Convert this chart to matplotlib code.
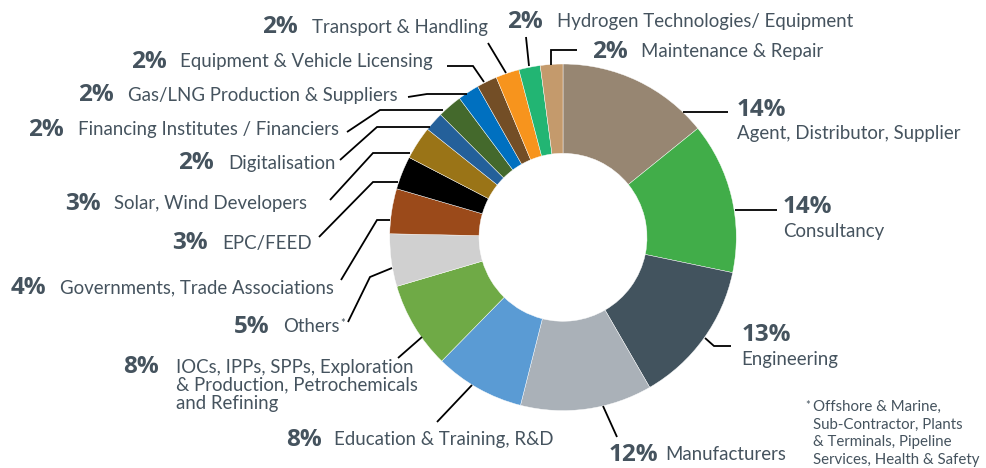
import matplotlib
matplotlib.use("Agg")
import matplotlib.pyplot as plt

W, H = 986, 468

categories = ["Agent, Distributor, Supplier", "Consultancy", "Engineering", "Manufacturers",
              "Education & Training, R&D",
              "IOCs, IPPs, SPPs, Exploration\n& Production, Petrochemicals\nand Refining",
              "Others", "Governments, Trade Associations", "EPC/FEED", "Solar, Wind Developers",
              "Digitalisation", "Financing Institutes / Financiers", "Gas/LNG Production & Suppliers",
              "Equipment & Vehicle Licensing", "Transport & Handling",
              "Hydrogen Technologies/ Equipment", "Maintenance & Repair"]
values = [14.2, 14.1, 13.4, 12.3, 8.4, 8.1, 4.9, 4.2, 3.1, 3.1, 1.8, 2.3, 2.0, 1.9, 2.2, 2.0, 2.1]
pct_labels = ["14%", "14%", "13%", "12%", "8%", "8%", "5%", "4%", "3%", "3%",
              "2%", "2%", "2%", "2%", "2%", "2%", "2%"]
colors = ["#978672", "#41AD49", "#42535E", "#AAB1B8", "#5A9BD4", "#6FAA46", "#D0D0D0",
          "#9B4A1A", "#000000", "#9A7417", "#24609A", "#44692C", "#0070C0", "#734E26",
          "#F7941D", "#22B573", "#C49A6C"]
footnote = "Offshore & Marine,\nSub-Contractor, Plants\n& Terminals, Pipeline\nServices, Health & Safety"

TXT = "#45535E"
FONT = "Lato"
PFONT = "Open Sans"

fig = plt.figure(figsize=(W / 100, H / 100), dpi=100)
ax = fig.add_axes([0, 0, 1, 1])

cx, cy, R, r_in = 563, 237.3, 173.3, 84
ax.pie(values, colors=colors, startangle=90, counterclock=False,
       center=(cx, H - cy), radius=R,
       wedgeprops=dict(width=R - r_in, edgecolor="white", linewidth=0.3))
ax.set_xlim(0, W)
ax.set_ylim(0, H)
ax.set_aspect("equal")
ax.axis("off")

def Y(y):
    return H - y

# label layout: (pct x, pct y, label x, label y, label mode)
layout = [
    (737, 110, 737, 133, "below"),
    (783, 207, 783, 232, "below"),
    (742, 335, 741, 359, "below"),
    (609, 455, 665, 455, "inline"),
    (286, 440, 334, 440, "inline"),
    (123, 367, 176, 368, "multi"),
    (234, 327, 283, 327, "inline"),
    (11, 288, 60, 288, "inline"),
    (172, 243, 222, 243, "inline"),
    (65, 204, 114, 204, "inline"),
    (178, 163, 228, 163, "inline"),
    (28, 130, 78, 130, "inline"),
    (78, 95, 128, 95, "inline"),
    (131, 62, 180, 62, "inline"),
    (262, 27, 312, 27, "inline"),
    (507, 22, 557, 22, "inline"),
    (592, 52, 641, 52, "inline"),
]

LS = 13.4
for i, (px, py, lx, ly, mode) in enumerate(layout):
    ax.text(px, Y(py), pct_labels[i], ha="left", va="center", fontsize=17.5,
            fontweight="bold", color=TXT, family=PFONT)
    if mode == "multi":
        ax.text(lx, Y(ly - 9.5), categories[i], ha="left", va="top", fontsize=LS,
                color=TXT, family=FONT, linespacing=1.08)
    elif categories[i] == "Others":
        ax.text(lx, Y(ly), "Others", ha="left", va="center", fontsize=LS,
                color=TXT, family=FONT)
        ax.text(lx + 57, Y(ly - 4), "*", ha="left", va="center", fontsize=8,
                color=TXT, family=FONT)
    else:
        ax.text(lx, Y(ly), categories[i], ha="left", va="center", fontsize=LS,
                color=TXT, family=FONT)

# footnote
ax.text(805, Y(406), "*", ha="left", va="center", fontsize=8, color=TXT, family=FONT)
ax.text(813, Y(400), footnote, ha="left", va="top", fontsize=10.8, color=TXT,
        family=FONT, linespacing=1.32)

# leader lines (pixel coords, y down)
leaders = [
    [(683, 112), (728, 112)],
    [(735, 210), (777, 210)],
    [(705, 338), (714, 346), (731, 346)],
    [(603, 406), (617, 437)],
    [(472, 385), (437, 422)],
    [(422, 337), (398, 358)],
    [(392, 268), (370, 277), (348, 322)],
    [(390, 220), (377, 220), (341, 280)],
    [(398, 182), (373, 182), (319, 237)],
    [(410, 153), (373, 153), (330, 200)],
    [(430, 127), (377, 127), (340, 160)],
    [(443, 110), (380, 110), (347, 132)],
    [(467, 94), (427, 94), (408, 97)],
    [(484, 82), (473, 66), (447, 66)],
    [(506, 73), (488, 43)],
    [(529, 66), (526, 37)],
    [(551, 65), (551, 50), (577, 50)],
]
for pts in leaders:
    xs = [p[0] for p in pts]
    ys = [Y(p[1]) for p in pts]
    ax.plot(xs, ys, color="black", lw=1.3, solid_capstyle="butt", solid_joinstyle="miter")

fig.savefig("out.png", dpi=100, facecolor="white")
